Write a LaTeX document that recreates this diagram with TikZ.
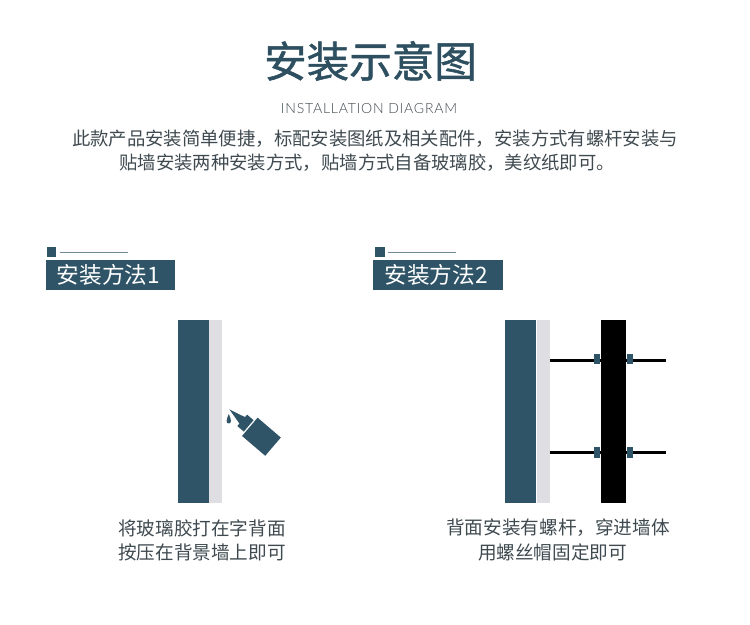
\documentclass[tikz,border=0pt]{standalone}
\usepackage{fontspec}
\usepackage{xcolor}
\usepackage{tikz}
\usetikzlibrary{calc}
\usetikzlibrary{positioning}
\setmainfont{Noto Sans CJK SC}
\newfontfamily\titlefont[FakeBold=1.2]{Noto Sans CJK SC}
\newfontfamily\latinthin[LetterSpace=5.5]{Lato Light}
\definecolor{slateblue}{HTML}{2F5467}
\definecolor{titleblue}{HTML}{2D4F60}
\definecolor{panelgray}{HTML}{DFDFE3}
\definecolor{bodygray}{HTML}{3F4A50}
\tikzstyle{titlenode}=[text=titleblue, font=\titlefont\fontsize{24.2pt}{26pt}\selectfont, inner sep=0pt]
\tikzstyle{subtitlenode}=[text=bodygray, font=\latinthin\fontsize{8pt}{10pt}\selectfont, inner sep=0pt]
\tikzstyle{bodynode}=[text=bodygray, font=\fontsize{10.45pt}{13pt}\selectfont, inner sep=0pt]
\tikzstyle{capnode}=[text=bodygray, font=\fontsize{10.6pt}{13pt}\selectfont, inner sep=0pt]
\tikzstyle{tagnode}=[shape=rectangle, fill=slateblue, text=white, inner sep=0pt, minimum width=2.6cm, minimum height=0.6cm, font=\fontsize{12.9pt}{14pt}\selectfont]
\tikzstyle{squarenode}=[shape=rectangle, fill=slateblue, inner sep=0pt, minimum size=0.2cm]
\tikzstyle{wallnode}=[shape=rectangle, fill=slateblue, inner sep=0pt, minimum width=0.62cm, minimum height=3.66cm]
\tikzstyle{gluenode}=[shape=rectangle, fill=panelgray, inner sep=0pt, minimum width=0.26cm, minimum height=3.66cm]
\tikzstyle{blacknode}=[shape=rectangle, fill=black, inner sep=0pt, minimum width=0.5cm, minimum height=3.66cm]
\tikzstyle{nutnode}=[shape=rectangle, fill=slateblue, inner sep=0pt, minimum width=0.13cm, minimum height=0.21cm]
\tikzstyle{rulenode}=[line width=0.55pt, color=slateblue!70!white]
\tikzstyle{boltline}=[line width=1.4pt, color=black]
\begin{document}
\begin{tikzpicture}[x=0.02cm, y=-0.02cm]
\useasboundingbox (0,0) rectangle (750,625);

\node [titlenode] (title) at (370.5,61) {安装示意图};
\node [subtitlenode] (subtitle) at (369,108.5) {INSTALLATION DIAGRAM};
\node [bodynode] (bodyA) at (375,138.5) {此款产品安装简单便捷，标配安装图纸及相关配件，安装方式有螺杆安装与};
\node [bodynode, anchor=west] (bodyB) at (119,162.5) {贴墙安装两种安装方式，贴墙方式自备玻璃胶，美纹纸即可。};

% first method
\node [squarenode] (sqA) at (51.5,252) {};
\coordinate (ruleA) at (128,252.5);
\draw [rulenode] (60,252.5) -- (ruleA);
\node [tagnode] (tagA) at (110.5,275) {安装方法1\kern0.08cm\relax};
\node [wallnode] (wallA) at (193.5,411.5) {};
\node [gluenode] (glueA) at (215.5,411.5) {};
\node [capnode] (capA1) at (202,528) {将玻璃胶打在字背面};
\node [capnode] (capA2) at (202,552) {按压在背景墙上即可};

% bottle
\begin{scope}[shift={(229.3,409.3)}, rotate=-40.5]
\fill [slateblue] (0,0) -- (18,-4.5) -- (18,4.5) -- cycle;
\fill [slateblue] (17,-7.5) rectangle (25.5,7.5);
\fill [slateblue] (27,-12) rectangle (57.5,12);
\end{scope}
\fill [slateblue] (228.8,414) .. controls (230,417) and (231,419) .. (231,421) .. controls (231,424.3) and (226.6,424.3) .. (226.6,421) .. controls (226.6,419) and (227.6,417) .. (228.8,414) -- cycle;

% second method
\node [squarenode] (sqB) at (379.5,252) {};
\coordinate (ruleB) at (456,252.5);
\draw [rulenode] (388,252.5) -- (ruleB);
\node [tagnode] (tagB) at (438,275) {安装方法2\kern0.08cm\relax};
\node [wallnode] (wallB) at (520.5,411.5) {};
\node [gluenode] (glueB) at (543,411.5) {};
\node [blacknode] (blackB) at (613.5,411.5) {};
\coordinate (boltAl) at (549.5,360.5);
\coordinate (boltAr) at (665.5,360.5);
\coordinate (boltBl) at (549.5,452.5);
\coordinate (boltBr) at (665.5,452.5);
\draw [boltline] (boltAl) -- (blackB.west |- boltAl);
\draw [boltline] (blackB.east |- boltAr) -- (boltAr);
\draw [boltline] (boltBl) -- (blackB.west |- boltBl);
\draw [boltline] (blackB.east |- boltBr) -- (boltBr);
\node [nutnode, anchor=east] (nutAl) at ($(blackB.west |- boltAl)+(0,-1.5)$) {};
\node [nutnode, anchor=west] (nutAr) at ($(blackB.east |- boltAr)+(0,-1.5)$) {};
\node [nutnode, anchor=east] (nutBl) at (blackB.west |- boltBl) {};
\node [nutnode, anchor=west] (nutBr) at (blackB.east |- boltBr) {};
\node [capnode] (capB1) at (558,528) {背面安装有螺杆，穿进墙体};
\node [capnode] (capB2) at (552.5,552) {用螺丝帽固定即可};
\end{tikzpicture}
\end{document}
